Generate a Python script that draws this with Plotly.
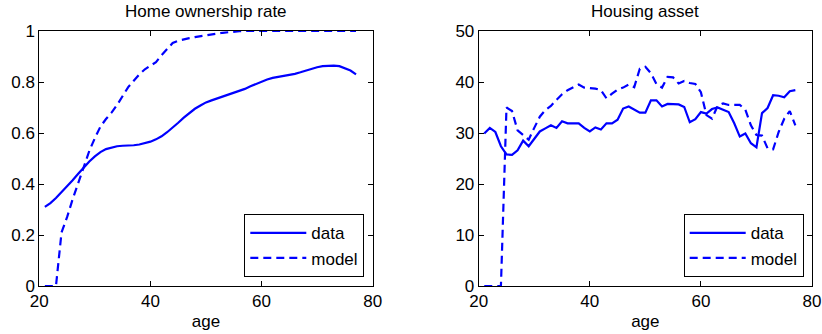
import plotly.graph_objects as go

ages = list(range(21, 78))

own_data = [0.31, 0.325, 0.345, 0.367, 0.39, 0.415, 0.44, 0.465, 0.488, 0.508,
            0.525, 0.537, 0.544, 0.548, 0.55, 0.55, 0.552, 0.555, 0.56, 0.566,
            0.575, 0.587, 0.603, 0.62, 0.64, 0.66, 0.678, 0.695, 0.708, 0.72,
            0.728, 0.735, 0.742, 0.749, 0.756, 0.764, 0.773, 0.783, 0.793, 0.802,
            0.81, 0.816, 0.82, 0.823, 0.827, 0.832, 0.838, 0.845, 0.852, 0.858,
            0.862, 0.864, 0.864, 0.862, 0.855, 0.845, 0.83]

own_model = [0.0, 0.0, 0.0, 0.21, 0.27, 0.34, 0.405, 0.47, 0.53, 0.58,
             0.625, 0.655, 0.68, 0.71, 0.745, 0.78, 0.805, 0.83, 0.85, 0.865,
             0.878, 0.905, 0.93, 0.953, 0.962, 0.968, 0.972, 0.976, 0.98, 0.983,
             0.987, 0.99, 0.993, 0.996, 0.998, 0.999, 1.0, 1.0, 1.0, 1.0,
             1.0, 1.0, 1.0, 1.0, 1.0, 1.0, 1.0, 1.0, 1.0, 1.0,
             1.0, 1.0, 1.0, 1.0, 1.0, 1.0, 1.0]

house_data = [29.9, 31.0, 30.2, 27.4, 25.8, 25.7, 26.6, 28.5, 27.4, 28.9,
              30.3, 30.9, 31.5, 31.0, 32.3, 31.9, 31.9, 31.9, 31.0, 30.3,
              31.1, 30.7, 31.9, 31.9, 32.6, 34.8, 35.2, 34.6, 34.0, 34.0,
              36.4, 36.4, 35.2, 35.7, 35.7, 35.6, 35.1, 32.1, 32.7, 34.1,
              33.8, 34.7, 35.0, 34.6, 34.1, 31.9, 29.3, 29.9, 28.0, 27.2,
              33.9, 34.9, 37.4, 37.3, 37.0, 38.2, 38.4]

house_model = [0.0, 0.0, 0.0, 0.0, 35.0, 34.3, 30.5, 29.6, 28.7, 31.0,
               33.2, 34.5, 35.3, 36.5, 37.6, 38.4, 39.0, 39.5, 38.9, 38.8,
               38.7, 38.4, 36.8, 37.7, 38.5, 38.9, 39.5, 39.0, 42.6, 43.0,
               41.7, 39.6, 38.9, 41.0, 40.9, 39.7, 40.2, 39.8, 39.6, 38.0,
               33.5, 32.8, 35.3, 35.8, 35.5, 35.5, 35.5, 34.6, 31.5, 29.6,
               29.5, 27.0, 26.8, 30.2, 32.8, 34.3, 31.5]

x_ticks = [20, 40, 60, 80]
own_ticks = [0, 0.2, 0.4, 0.6, 0.8, 1]
own_ticktext = ["0", "0.2", "0.4", "0.6", "0.8", "1"]
house_ticks = [0, 10, 20, 30, 40, 50]

titles = ["Home ownership rate", "Housing asset"]
series_names = ["data", "model"]

W, H = 822, 334
FONT = "Liberation Sans, Arial, Helvetica, sans-serif"
BLUE = "rgb(0,0,255)"

xd1 = [39.3 / W, 372.7 / W]
xd2 = [478.7 / W, 812.0 / W]
yd = [(H - 286.0) / H, (H - 31.0) / H]

fig = go.Figure()
fig.add_trace(go.Scatter(x=ages, y=own_data, mode="lines", name=series_names[0],
                         line=dict(color=BLUE, width=2.2), xaxis="x", yaxis="y",
                         legend="legend"))
fig.add_trace(go.Scatter(x=ages, y=own_model, mode="lines", name=series_names[1],
                         line=dict(color=BLUE, width=2.2, dash="8px,5px"), xaxis="x", yaxis="y",
                         legend="legend"))
fig.add_trace(go.Scatter(x=ages, y=house_data, mode="lines", name=series_names[0],
                         line=dict(color=BLUE, width=2.2), xaxis="x2", yaxis="y2",
                         legend="legend2"))
fig.add_trace(go.Scatter(x=ages, y=house_model, mode="lines", name=series_names[1],
                         line=dict(color=BLUE, width=2.2, dash="8px,5px"), xaxis="x2", yaxis="y2",
                         legend="legend2"))

axis_common = dict(showgrid=False, zeroline=False, showline=True, linecolor="black",
                   linewidth=1, mirror="ticks", ticks="inside", ticklen=5,
                   tickcolor="black", tickfont=dict(family=FONT, size=17, color="black"),
                   automargin=False)

legend_common = dict(xanchor="right", yanchor="bottom", bordercolor="black",
                     borderwidth=1, bgcolor="white", font=dict(family=FONT, size=17),
                     tracegroupgap=0, itemwidth=56)

fig.update_layout(
    width=W, height=H,
    margin=dict(l=0, r=0, t=0, b=0),
    paper_bgcolor="white", plot_bgcolor="white",
    font=dict(family=FONT, size=17, color="black"),
    xaxis=dict(domain=xd1, range=[20, 80], tickvals=x_ticks, anchor="y",
               title=dict(text="age", standoff=4, font=dict(family=FONT, size=17)),
               **axis_common),
    yaxis=dict(domain=yd, range=[0, 1], tickvals=own_ticks, ticktext=own_ticktext,
               anchor="x", **axis_common),
    xaxis2=dict(domain=xd2, range=[20, 80], tickvals=x_ticks, anchor="y2",
                title=dict(text="age", standoff=4, font=dict(family=FONT, size=17)),
                **axis_common),
    yaxis2=dict(domain=yd, range=[0, 50], tickvals=house_ticks, anchor="x2",
                **axis_common),
    legend=dict(x=364.3 / W, y=(H - 277.3) / H, **legend_common),
    legend2=dict(x=803.7 / W, y=(H - 277.3) / H, **legend_common),
    showlegend=True,
    annotations=[
        dict(text=titles[0], x=(xd1[0] + xd1[1]) / 2, y=(H - 11.5) / H, xref="paper",
             yref="paper", showarrow=False, xanchor="center", yanchor="middle",
             font=dict(family=FONT, size=17)),
        dict(text=titles[1], x=(xd2[0] + xd2[1]) / 2, y=(H - 11.5) / H, xref="paper",
             yref="paper", showarrow=False, xanchor="center", yanchor="middle",
             font=dict(family=FONT, size=17)),
    ],
)

fig.write_html("out.html", config={"displayModeBar": False},
               post_script="document.body.style.margin='0';document.body.style.padding='0';")
